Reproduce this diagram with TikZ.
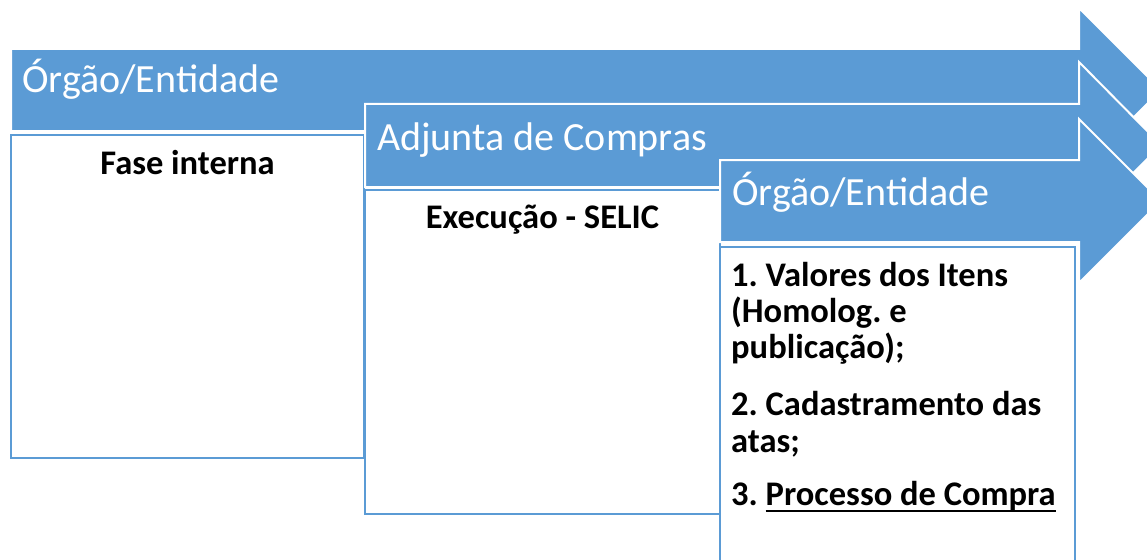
\documentclass[tikz,border=0pt]{standalone}
\usepackage{fontspec}
\setmainfont{Carlito}
\frenchspacing
\definecolor{arrowblue}{HTML}{5B9BD5}
\newcommand\myul[1]{\setbox0\hbox{#1}\rlap{\rule[-7pt]{\wd0}{2pt}}\box0}
\tikzset{
  arrowshape/.style={fill=arrowblue, draw=white, line width=2pt, line join=miter},
  boxshape/.style={fill=white, draw=arrowblue, line width=2.8pt},
  headtext/.style={text=white, font=\fontsize{40}{48}\selectfont, inner sep=0pt, anchor=base west},
  bodytext/.style={text=black, font=\bfseries\fontsize{34.5}{38}\selectfont, inner sep=0pt, anchor=base west},
}
\begin{document}
\begin{tikzpicture}[x=1pt,y=-1pt]
\useasboundingbox (0,0) rectangle (1147,559);
\begin{scope}
\clip (0,0) rectangle (1147,559);
% arrow 1
\draw[arrowshape] (11,49) -- (1079,49) -- (1079,8) -- (1161,90) -- (1079,172) -- (1079,131) -- (11,131) -- cycle;
\draw[boxshape] (11,135) rectangle (364,458);
% arrow 2
\draw[arrowshape] (365,104) -- (1079,104) -- (1079,62) -- (1161,145) -- (1079,228) -- (1079,187) -- (365,187) -- cycle;
\draw[boxshape] (365,190) rectangle (720,514);
% arrow 3
\draw[arrowshape] (720,160) -- (1079,160) -- (1079,119) -- (1161,201) -- (1079,283) -- (1079,242) -- (720,242) -- cycle;
\draw[boxshape] (720,247) rectangle (1075,600);
\end{scope}
% texts
\node[headtext] (h1) at (22,93) {Órgão/Entidade};
\node[headtext] (h2) at (377,150) {Adjunta de Compras};
\node[headtext] (h3) at (732,205) {Órgão/Entidade};
\node[bodytext, anchor=base] (t1) at (187.5,174) {Fase interna};
\node[bodytext, anchor=base] (t2) at (542.5,228) {Execução - SELIC};
\node[bodytext] (l1) at (731,286) {1. Valores dos Itens};
\node[bodytext] (l2) at (731,322) {(Homolog. e};
\node[bodytext] (l3) at (731,358) {publicação);};
\node[bodytext] (l4) at (731,415) {2. Cadastramento das};
\node[bodytext] (l5) at (731,452) {atas;};
\node[bodytext] (l6) at (731,505) {3. \myul{Processo de Compra}};
\end{tikzpicture}
\end{document}
